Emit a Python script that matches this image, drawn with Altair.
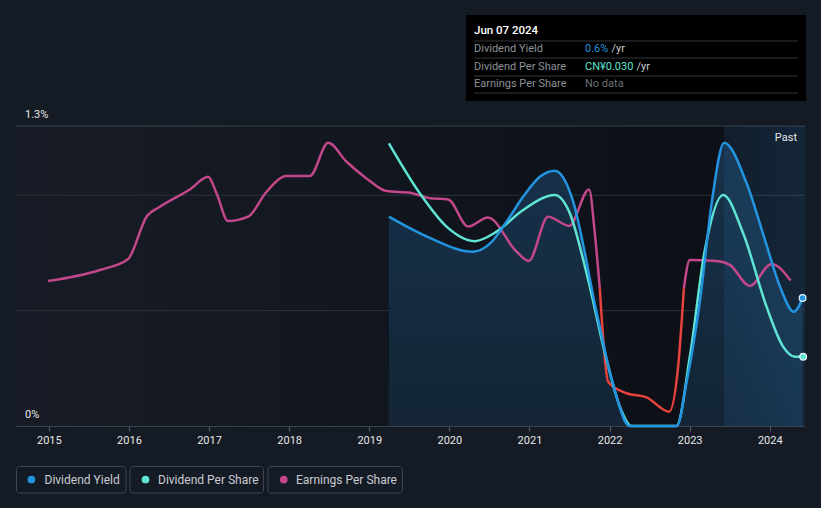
import altair as alt
import pandas as pd

# ---------------- data ----------------
yield_years = [2019.245, 2019.756, 2020.293, 2020.506, 2020.714, 2020.92, 2021.13, 2021.317,
               2021.46, 2021.54, 2021.84, 2022.04, 2022.25, 2022.84, 2022.96, 2023.13,
               2023.28, 2023.43, 2023.71, 2023.94, 2024.13, 2024.30, 2024.41]
yield_vals = [0.907, 0.815, 0.755, 0.790, 0.885, 0.993, 1.080, 1.106,
              1.052, 0.979, 0.490, 0.186, 0.0, 0.0, 0.186, 0.546,
              0.979, 1.227, 1.053, 0.806, 0.602, 0.495, 0.555]

dps_years = [2019.245, 2019.632, 2019.965, 2020.318, 2020.589, 2020.921, 2021.317, 2021.504,
             2021.713, 2021.963, 2022.129, 2022.275, 2022.836, 2023.002, 2023.190, 2023.418,
             2023.668, 2023.960, 2024.167, 2024.313, 2024.417]
dps_vals = [1.225, 1.008, 0.864, 0.801, 0.842, 0.936, 1.001, 0.922,
            0.662, 0.286, 0.084, 0.0, 0.0, 0.300, 0.763, 1.001,
            0.835, 0.517, 0.344, 0.300, 0.300]

eps_years = [2014.991, 2015.637, 2015.990, 2016.220, 2016.386, 2016.760, 2016.989, 2017.094,
             2017.238, 2017.488, 2017.718, 2017.968, 2018.258, 2018.487, 2018.717, 2018.966,
             2019.216, 2019.507, 2019.757, 2019.985, 2020.235, 2020.48, 2020.84, 2020.99,
             2021.233, 2021.496, 2021.745, 2021.816, 2021.878, 2021.983, 2022.212, 2022.462,
             2022.744, 2022.856, 2022.928, 2023.002, 2023.336, 2023.502, 2023.752, 2024.022,
             2024.260]
eps_vals = [0.628, 0.676, 0.724, 0.907, 0.950, 1.025, 1.080, 1.008,
            0.888, 0.907, 1.015, 1.083, 1.083, 1.227, 1.145, 1.073,
            1.018, 1.011, 0.987, 0.982, 0.864, 0.904, 0.755, 0.715,
            0.907, 0.867, 1.025, 0.835, 0.597, 0.192, 0.142, 0.124,
            0.062, 0.257, 0.597, 0.719, 0.715, 0.698, 0.607, 0.702,
            0.630]
eps_low_threshold = 0.597   # below this, the earnings line is drawn in red

year_ticks = list(range(2015, 2025))
grid_vals = [0.5, 1.0]
top_val = 1.3
past_start = 2023.43
x_domain = [2014.59, 2024.44]

# ---------------- styling ----------------
BG = "#151b25"
BLUE = "#2394df"
TEAL = "#5fe3d2"
MAGENTA = "#c2478b"
RED = "#e8423f"
FONT = "Roboto"
W, H = 789, 300

xs = alt.Scale(domain=x_domain, nice=False, zero=False)
ys = alt.Scale(domain=[0, top_val], nice=False, zero=True)

yield_df = pd.DataFrame({"year": yield_years, "val": yield_vals})
dps_df = pd.DataFrame({"year": dps_years, "val": dps_vals})

# split EPS into coloured segments (boundary points shared)
rows = []
seg = 0
prev_low = None
for i, (yr, v) in enumerate(zip(eps_years, eps_vals)):
    low = v < eps_low_threshold - 1e-9
    is_boundary = abs(v - eps_low_threshold) < 1e-9
    if is_boundary and i > 0:
        rows.append({"year": yr, "val": v, "seg": seg, "color": MAGENTA if not prev_low else RED})
        seg += 1
        prev_low = not prev_low
        rows.append({"year": yr, "val": v, "seg": seg, "color": RED if prev_low else MAGENTA})
        continue
    if prev_low is None:
        prev_low = low
    rows.append({"year": yr, "val": v, "seg": seg, "color": RED if prev_low else MAGENTA})
eps_df = pd.DataFrame(rows)

X = alt.X("year:Q", scale=xs,
          axis=alt.Axis(values=year_ticks, format="d", tickSize=5, tickColor="#5a606a",
                        domainColor="#3b414b", labelColor="#e6e6e6", labelFontSize=11,
                        labelPadding=3, grid=False, title=None, labelFont=FONT,
                        labelFlush=False))
Y = alt.Y("val:Q", scale=ys, axis=None)

base_row = pd.DataFrame({"a": [0]})

bg = alt.Chart(base_row).mark_rect(
    color=alt.LinearGradient(gradient="linear", x1=0, x2=1, y1=0, y2=0,
                             stops=[alt.GradientStop(color="#171c26", offset=0),
                                    alt.GradientStop(color="#12161f", offset=0.45),
                                    alt.GradientStop(color="#0d1017", offset=0.8),
                                    alt.GradientStop(color="#0d1017", offset=1)])
).encode(x=alt.value(0), x2=alt.value(W), y=alt.value(0), y2=alt.value(H))

grid = alt.Chart(pd.DataFrame({"val": grid_vals})).mark_rule(color="#2b313a", strokeWidth=1).encode(
    y=alt.Y("val:Q", scale=ys, axis=None))
topline = alt.Chart(pd.DataFrame({"val": [top_val]})).mark_rule(color="#3b414b", strokeWidth=1).encode(
    y=alt.Y("val:Q", scale=ys, axis=None))

area = alt.Chart(yield_df).mark_area(
    interpolate="monotone",
    color=alt.LinearGradient(gradient="linear", x1=0, x2=0, y1=0, y2=1,
                             stops=[alt.GradientStop(color="#17324b", offset=0),
                                    alt.GradientStop(color="#132536", offset=1)])
).encode(x=X, y=Y)

past = alt.Chart(pd.DataFrame({"s": [past_start], "e": [x_domain[1]]})).mark_rect(
    color=alt.LinearGradient(gradient="linear", x1=0, x2=1, y1=0, y2=0,
                             stops=[alt.GradientStop(color="rgba(45,120,180,0.13)", offset=0),
                                    alt.GradientStop(color="rgba(45,120,180,0.22)", offset=1)])
).encode(x=alt.X("s:Q", scale=xs), x2="e:Q", y=alt.value(0), y2=alt.value(H))

past_txt = alt.Chart(base_row).mark_text(text="Past", align="right", baseline="middle",
                                         color="#e8e8e8", fontSize=11, font=FONT).encode(
    x=alt.value(781), y=alt.value(12))

eps_line = alt.Chart(eps_df).mark_line(interpolate="monotone", strokeWidth=2.5).encode(
    x=X, y=Y, detail="seg:N", color=alt.Color("color:N", scale=None))
dps_line = alt.Chart(dps_df).mark_line(interpolate="monotone", strokeWidth=2.5, color=TEAL).encode(x=X, y=Y)
yield_line = alt.Chart(yield_df).mark_line(interpolate="monotone", strokeWidth=2.5, color=BLUE).encode(x=X, y=Y)

end_dots = alt.Chart(pd.DataFrame({
    "year": [yield_years[-1], dps_years[-1]],
    "val": [yield_vals[-1], dps_vals[-1]],
    "c": [BLUE, TEAL]})).mark_point(filled=True, size=45, stroke="#e8f4ff", strokeWidth=1.2, opacity=1).encode(
    x=X, y=Y, fill=alt.Fill("c:N", scale=None))

ylab = alt.Chart(pd.DataFrame({"val": [top_val, 0], "t": ["1.3%", "0%"]})).mark_text(
    align="left", baseline="alphabetic", dy=-8, color="#e6e6e6", fontSize=11, font=FONT).encode(
    x=alt.value(9), y=alt.Y("val:Q", scale=ys, axis=None), text="t:N")

# ---------------- tooltip box ----------------
tip_box = alt.Chart(base_row).mark_rect(color="#000000").encode(
    x=alt.value(450), x2=alt.value(790), y=alt.value(-111), y2=alt.value(-25))
sep = alt.Chart(pd.DataFrame({"y": [-85, -68, -50, -33]})).mark_rule(color="#33373d", strokeWidth=1).encode(
    x=alt.value(458), x2=alt.value(782), y=alt.Y("y:Q", scale=None))
tip_title = alt.Chart(base_row).mark_text(text="Jun 07 2024", align="left", baseline="middle",
                                          color="#ffffff", fontSize=11.5, fontWeight=500, font=FONT).encode(
    x=alt.value(458), y=alt.value(-95))
tip_labels = alt.Chart(pd.DataFrame({"y": [-77, -59.3, -41.7],
                                     "t": ["Dividend Yield", "Dividend Per Share", "Earnings Per Share"]})).mark_text(
    align="left", baseline="middle", color="#8c9199", fontSize=11, font=FONT).encode(
    x=alt.value(458), y=alt.Y("y:Q", scale=None), text="t:N")
tip_vals = alt.Chart(pd.DataFrame({"y": [-77, -59.3, -41.7],
                                   "t": ["0.6%", "CN¥0.030", "No data"],
                                   "c": [BLUE, TEAL, "#6b7078"]})).mark_text(
    align="left", baseline="middle", fontSize=11, font=FONT).encode(
    x=alt.value(569), y=alt.Y("y:Q", scale=None), text="t:N", color=alt.Color("c:N", scale=None))
tip_yr = alt.Chart(pd.DataFrame({"x": [595.5, 620.5], "y": [-77, -59.3]})).mark_text(
    text="/yr", align="left", baseline="middle", color="#c8ccd2", fontSize=11, font=FONT).encode(
    x=alt.X("x:Q", scale=None), y=alt.Y("y:Q", scale=None))

# ---------------- legend ----------------
leg = pd.DataFrame({
    "x0": [0.5, 114, 252], "x1": [110, 247.5, 386.5],
    "dx": [15.4, 129.5, 267.8], "tx": [28.5, 142, 280],
    "t": ["Dividend Yield", "Dividend Per Share", "Earnings Per Share"],
    "c": [BLUE, TEAL, MAGENTA]})
leg_box = alt.Chart(leg).mark_rect(fillOpacity=0, stroke="#3f454e", strokeWidth=1, cornerRadius=3).encode(
    x=alt.X("x0:Q", scale=None), x2="x1:Q", y=alt.value(340.5), y2=alt.value(367))
leg_dot = alt.Chart(leg).mark_circle(size=60, opacity=1).encode(
    x=alt.X("dx:Q", scale=None), y=alt.value(353.5), color=alt.Color("c:N", scale=None))
leg_txt = alt.Chart(leg).mark_text(align="left", baseline="middle", color="#c9ccd1", fontSize=12, font=FONT).encode(
    x=alt.X("tx:Q", scale=None), y=alt.value(353.5), text="t:N")

chart = alt.layer(
    bg, grid, topline, area, past, past_txt, eps_line, dps_line, yield_line, end_dots, ylab,
    tip_box, sep, tip_title, tip_labels, tip_vals, tip_yr, leg_box, leg_dot, leg_txt
).properties(
    width=W, height=H,
    autosize=alt.AutoSizeParams(type="none"),
    padding={"left": 8, "top": 118, "right": 8, "bottom": 74},
    background=BG,
).configure_view(stroke=None)

chart.save("out.html", embed_options={"renderer": "svg", "actions": False,
                                      "defaultStyle": "body { background: #151b25; }"})
